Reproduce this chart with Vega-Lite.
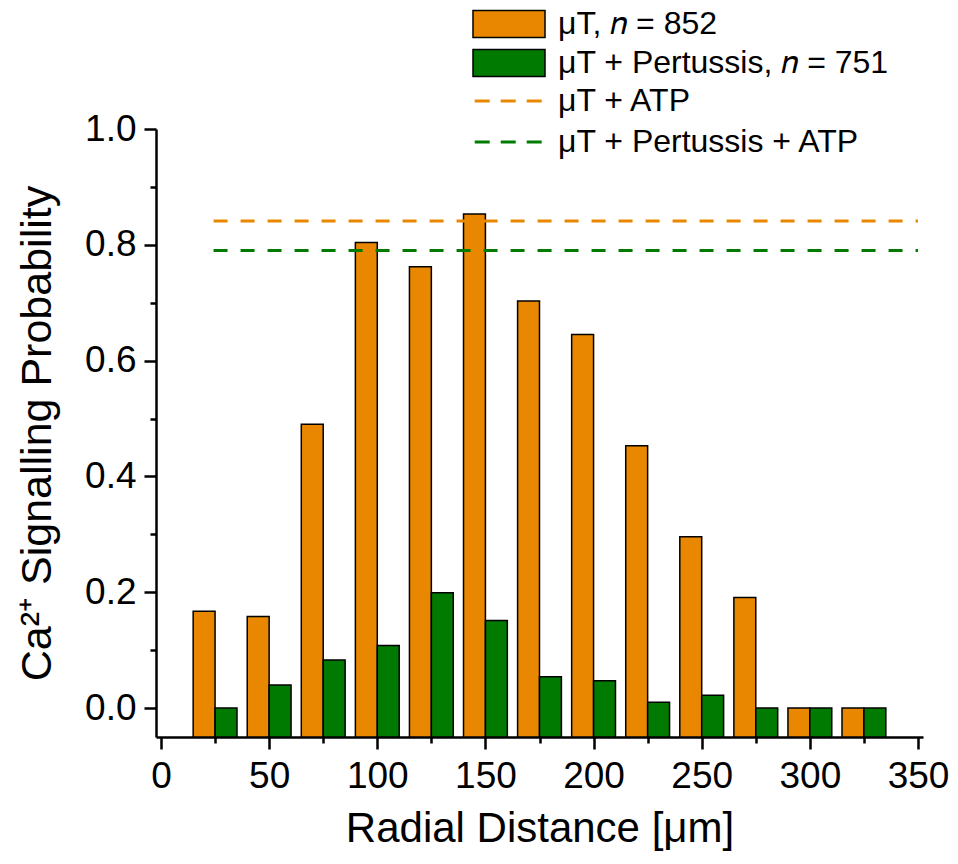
{
  "$schema": "https://vega.github.io/schema/vega-lite/v6.json",
  "width": 767,
  "height": 608,
  "autosize": {"type": "none"},
  "padding": {"left": 156, "top": 129, "right": 35, "bottom": 127},
  "background": "white",
  "config": {
    "view": {"stroke": null},
    "font": "Liberation Sans",
    "axis": {
      "domainColor": "black",
      "domainWidth": 2.5,
      "tickColor": "black",
      "tickWidth": 2.5,
      "labelColor": "black",
      "titleColor": "black",
      "labelFont": "Liberation Sans",
      "titleFont": "Liberation Sans",
      "labelFontSize": 37,
      "titleFontSize": 42,
      "titleFontWeight": "normal",
      "grid": false,
      "labelFlush": false,
      "labelOverlap": false,
      "labelBound": false
    },
    "legend": {
      "labelFont": "Liberation Sans",
      "labelFontSize": 32,
      "labelColor": "black",
      "padding": 0,
      "labelLimit": 600
    }
  },
  "datasets": {
    "bars": [
      {"distance": 25, "series": "μT, 𝑛 = 852", "p": 0.167},
      {"distance": 50, "series": "μT, 𝑛 = 852", "p": 0.158},
      {"distance": 75, "series": "μT, 𝑛 = 852", "p": 0.490},
      {"distance": 100, "series": "μT, 𝑛 = 852", "p": 0.804},
      {"distance": 125, "series": "μT, 𝑛 = 852", "p": 0.762},
      {"distance": 150, "series": "μT, 𝑛 = 852", "p": 0.853},
      {"distance": 175, "series": "μT, 𝑛 = 852", "p": 0.703},
      {"distance": 200, "series": "μT, 𝑛 = 852", "p": 0.645},
      {"distance": 225, "series": "μT, 𝑛 = 852", "p": 0.453},
      {"distance": 250, "series": "μT, 𝑛 = 852", "p": 0.296},
      {"distance": 275, "series": "μT, 𝑛 = 852", "p": 0.191},
      {"distance": 300, "series": "μT, 𝑛 = 852", "p": 0.0},
      {"distance": 325, "series": "μT, 𝑛 = 852", "p": 0.0},
      {"distance": 25, "series": "μT + Pertussis, 𝑛 = 751", "p": 0.0},
      {"distance": 50, "series": "μT + Pertussis, 𝑛 = 751", "p": 0.040},
      {"distance": 75, "series": "μT + Pertussis, 𝑛 = 751", "p": 0.083},
      {"distance": 100, "series": "μT + Pertussis, 𝑛 = 751", "p": 0.108},
      {"distance": 125, "series": "μT + Pertussis, 𝑛 = 751", "p": 0.199},
      {"distance": 150, "series": "μT + Pertussis, 𝑛 = 751", "p": 0.151},
      {"distance": 175, "series": "μT + Pertussis, 𝑛 = 751", "p": 0.054},
      {"distance": 200, "series": "μT + Pertussis, 𝑛 = 751", "p": 0.047},
      {"distance": 225, "series": "μT + Pertussis, 𝑛 = 751", "p": 0.010},
      {"distance": 250, "series": "μT + Pertussis, 𝑛 = 751", "p": 0.022},
      {"distance": 275, "series": "μT + Pertussis, 𝑛 = 751", "p": 0.0},
      {"distance": 300, "series": "μT + Pertussis, 𝑛 = 751", "p": 0.0},
      {"distance": 325, "series": "μT + Pertussis, 𝑛 = 751", "p": 0.0}
    ],
    "lines": [
      {"series": "μT + ATP", "p": 0.841, "start": 24.3, "end": 350},
      {"series": "μT + Pertussis + ATP", "p": 0.790, "start": 24.3, "end": 350}
    ]
  },
  "layer": [
    {
      "data": {"name": "bars"},
      "transform": [{"filter": "datum.series == 'μT, 𝑛 = 852'"}],
      "mark": {"type": "bar", "width": 21.9, "xOffset": -10.96, "stroke": "black", "strokeWidth": 1.5},
      "encoding": {
        "x": {
          "field": "distance", "type": "quantitative",
          "scale": {"domain": [0, 350], "nice": false, "zero": false},
          "axis": {
            "title": "Radial Distance [μm]",
            "values": [0, 25, 50, 75, 100, 125, 150, 175, 200, 225, 250, 275, 300, 325, 350],
            "labelExpr": "datum.value % 50 == 0 ? datum.label : ''",
            "tickSize": {"condition": {"test": "datum.value % 50 == 0", "value": 12}, "value": 6},
            "labelPadding": 9,
            "titlePadding": 14
          }
        },
        "y": {
          "field": "p", "type": "quantitative",
          "scale": {"domain": [-0.05, 1.0], "nice": false, "zero": false},
          "axis": {
            "title": "Ca²⁺ Signalling Probability",
            "titleFontSize": 43,
            "values": [0, 0.1, 0.2, 0.3, 0.4, 0.5, 0.6, 0.7, 0.8, 0.9, 1.0],
            "labelExpr": "round(datum.value * 10) % 2 == 0 ? format(datum.value, '.1f') : ''",
            "tickSize": {"condition": {"test": "round(datum.value * 10) % 2 == 0", "value": 12}, "value": 6},
            "labelPadding": 8,
            "titlePadding": 25
          }
        },
        "y2": {"datum": -0.05},
        "fill": {
          "field": "series", "type": "nominal",
          "scale": {
            "domain": ["μT, 𝑛 = 852", "μT + Pertussis, 𝑛 = 751"],
            "range": ["#E98800", "#007A00"]
          },
          "legend": {
            "title": null,
            "orient": "none",
            "legendX": 337,
            "legendY": -121,
            "symbolType": "M-2.667,-1H2.667V1H-2.667Z",
            "symbolSize": 729,
            "symbolStrokeColor": "black",
            "symbolStrokeWidth": 1.5,
            "symbolOpacity": 1,
            "labelOffset": 33,
            "rowPadding": 5
          }
        }
      }
    },
    {
      "data": {"name": "bars"},
      "transform": [{"filter": "datum.series == 'μT + Pertussis, 𝑛 = 751'"}],
      "mark": {"type": "bar", "width": 21.9, "xOffset": 10.96, "stroke": "black", "strokeWidth": 1.5},
      "encoding": {
        "x": {"field": "distance", "type": "quantitative"},
        "y": {"field": "p", "type": "quantitative"},
        "y2": {"datum": -0.05},
        "fill": {"field": "series", "type": "nominal"}
      }
    },
    {
      "data": {"name": "lines"},
      "mark": {"type": "rule", "strokeDash": [14, 13], "strokeWidth": 3},
      "encoding": {
        "x": {"field": "start", "type": "quantitative"},
        "x2": {"field": "end"},
        "y": {"field": "p", "type": "quantitative"},
        "stroke": {
          "field": "series", "type": "nominal",
          "scale": {
            "domain": ["μT + ATP", "μT + Pertussis + ATP"],
            "range": ["#E98800", "#007A00"]
          },
          "legend": {
            "title": null,
            "orient": "none",
            "legendX": 337,
            "legendY": -44,
            "symbolType": "M-2.54,0H2.54",
            "symbolSize": 729,
            "symbolStrokeWidth": 3,
            "symbolDash": [15, 11],
            "symbolOpacity": 1,
            "labelOffset": 33,
            "rowPadding": 9
          }
        }
      }
    }
  ]
}
